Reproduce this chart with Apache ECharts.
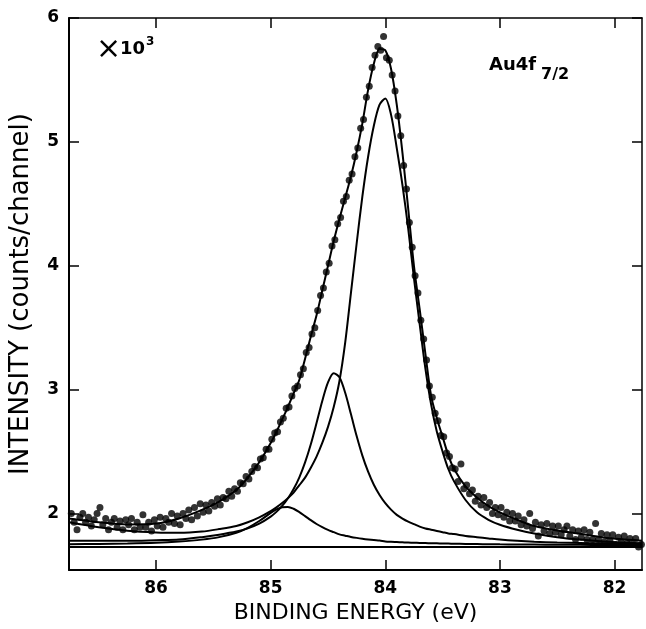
<!DOCTYPE html>
<html><head><meta charset="utf-8">
<script src="https://cdn.jsdelivr.net/npm/echarts@6/dist/echarts.min.js"></script>
<style>html,body{margin:0;padding:0;background:#fff}#c{width:646px;height:629px}</style>
</head><body><div id="c"></div>
<script>
// Measured channels: binding energy (eV) and intensity (x10^3 counts/channel)
const channelEnergy = [86.74,86.715,86.69,86.665,86.64,86.615,86.59,86.565,86.54,86.515,86.49,86.465,86.44,86.415,86.39,86.365,86.34,86.315,86.29,86.265,86.24,86.215,86.19,86.165,86.14,86.115,86.09,86.065,86.04,86.015,85.99,85.965,85.94,85.915,85.89,85.865,85.84,85.815,85.79,85.765,85.74,85.715,85.69,85.665,85.64,85.615,85.59,85.565,85.54,85.515,85.49,85.465,85.44,85.415,85.39,85.365,85.34,85.315,85.29,85.265,85.24,85.215,85.19,85.165,85.14,85.115,85.09,85.065,85.04,85.015,84.99,84.965,84.94,84.915,84.89,84.865,84.84,84.815,84.79,84.765,84.74,84.715,84.69,84.665,84.64,84.615,84.59,84.565,84.54,84.515,84.49,84.465,84.44,84.415,84.39,84.365,84.34,84.315,84.29,84.265,84.24,84.215,84.19,84.165,84.14,84.115,84.09,84.065,84.04,84.015,83.99,83.965,83.94,83.915,83.89,83.865,83.84,83.815,83.79,83.765,83.74,83.715,83.69,83.665,83.64,83.615,83.59,83.565,83.54,83.515,83.49,83.465,83.44,83.415,83.39,83.365,83.34,83.315,83.29,83.265,83.24,83.215,83.19,83.165,83.14,83.115,83.09,83.065,83.04,83.015,82.99,82.965,82.94,82.915,82.89,82.865,82.84,82.815,82.79,82.765,82.74,82.715,82.69,82.665,82.64,82.615,82.59,82.565,82.54,82.515,82.49,82.465,82.44,82.415,82.39,82.365,82.34,82.315,82.29,82.265,82.24,82.215,82.19,82.165,82.14,82.115,82.09,82.065,82.04,82.015,81.99,81.965,81.94,81.915,81.89,81.865,81.84,81.815,81.79,81.765];
const channelCounts = [2.00,1.93,1.87,1.97,2.00,1.93,1.97,1.90,1.95,2.00,
2.05,1.91,1.96,1.87,1.93,1.96,1.89,1.94,1.87,1.95,
1.91,1.96,1.87,1.93,1.89,1.99,1.89,1.93,1.86,1.95,
1.90,1.97,1.89,1.96,1.93,2.00,1.92,1.98,1.91,2.00,
1.96,2.03,1.95,2.05,1.98,2.08,2.01,2.07,2.02,2.09,
2.06,2.12,2.07,2.13,2.12,2.18,2.14,2.20,2.18,2.25,
2.24,2.30,2.28,2.34,2.38,2.37,2.44,2.45,2.52,2.52,
2.60,2.65,2.66,2.74,2.77,2.85,2.86,2.95,3.01,3.03,
3.12,3.17,3.30,3.34,3.45,3.50,3.64,3.76,3.82,3.95,
4.02,4.16,4.21,4.34,4.39,4.52,4.56,4.69,4.74,4.88,
4.95,5.11,5.18,5.36,5.45,5.60,5.70,5.77,5.74,5.85,
5.68,5.66,5.54,5.41,5.21,5.05,4.81,4.62,4.35,4.15,
3.92,3.78,3.56,3.41,3.24,3.03,2.94,2.81,2.75,2.63,
2.62,2.49,2.46,2.37,2.36,2.26,2.40,2.20,2.23,2.16,
2.19,2.10,2.14,2.07,2.13,2.05,2.09,2.00,2.05,1.99,
2.05,1.97,2.01,1.94,2.00,1.94,1.98,1.91,1.95,1.90,
2.00,1.88,1.93,1.82,1.91,1.86,1.92,1.84,1.90,1.85,
1.90,1.83,1.87,1.90,1.82,1.87,1.79,1.86,1.81,1.87,
1.79,1.85,1.79,1.92,1.79,1.84,1.77,1.83,1.78,1.83,
1.75,1.81,1.77,1.82,1.76,1.80,1.75,1.80,1.73,1.75];

// Fitted curves sampled at these energies
const fitEnergy = [86.76,86.5,86.25,86.0,85.8,85.6,85.45,85.3,85.2,85.1,85.0,84.95,84.9,84.85,84.8,84.75,84.7,84.65,84.6,84.55,84.5,84.45,84.4,84.35,84.3,84.25,84.2,84.15,84.1,84.05,84.0,83.95,83.9,83.85,83.8,83.75,83.7,83.65,83.6,83.55,83.5,83.45,83.4,83.3,83.2,83.1,83.0,82.85,82.7,82.5,82.3,82.1,81.9,81.76];
const fitTotal = [1.96,1.93,1.913,1.92,1.961,2.03,2.097,2.19,2.29,2.414,2.57,2.66,2.76,2.86,2.97,3.08,3.25,3.43,3.60,3.80,4.00,4.20,4.38,4.55,4.72,4.92,5.15,5.42,5.63,5.75,5.74,5.59,5.30,4.91,4.46,4.00,3.65,3.29,2.95,2.77,2.62,2.47,2.36,2.22,2.13,2.06,2.01,1.95,1.90,1.863,1.837,1.808,1.79,1.78];
const fitMain = [1.93,1.89,1.862,1.848,1.845,1.855,1.875,1.90,1.93,1.97,2.02,2.05,2.085,2.125,2.17,2.23,2.29,2.37,2.46,2.57,2.70,2.86,3.07,3.38,3.78,4.18,4.56,4.88,5.13,5.30,5.35,5.22,4.95,4.65,4.30,3.90,3.53,3.17,2.88,2.66,2.50,2.36,2.26,2.11,2.01,1.95,1.91,1.87,1.84,1.81,1.79,1.775,1.765,1.76];
const fitPeak2 = [1.78,1.78,1.78,1.785,1.79,1.81,1.83,1.855,1.881,1.919,1.976,2.014,2.062,2.122,2.198,2.293,2.413,2.56,2.731,2.909,3.059,3.133,3.10,2.975,2.803,2.626,2.468,2.338,2.233,2.15,2.084,2.032,1.99,1.96,1.935,1.915,1.895,1.88,1.87,1.86,1.85,1.84,1.835,1.82,1.81,1.80,1.79,1.78,1.773,1.767,1.763,1.76,1.758,1.757];
const fitPeak3 = [1.753,1.755,1.758,1.764,1.774,1.79,1.81,1.845,1.885,1.94,2.006,2.034,2.052,2.054,2.039,2.012,1.98,1.947,1.916,1.89,1.868,1.85,1.832,1.822,1.812,1.804,1.797,1.791,1.786,1.782,1.775,1.772,1.77,1.768,1.766,1.765,1.763,1.762,1.761,1.76,1.759,1.758,1.757,1.755,1.754,1.753,1.752,1.751,1.75,1.749,1.748,1.747,1.747,1.746];
const baseEnergy = [86.76, 81.76];
const baseLevel = [1.73, 1.73];

const xTicks = [86, 85, 84, 83, 82];
const yTicks = [2, 3, 4, 5, 6];
const xRange = [81.76, 86.76];
const yRange = [1.544, 6];

const pairs = (xs, ys) => xs.map((x, i) => [x, ys[i]]);
const black = '#000';

function xAx(pos, show) {
  return {
    type: 'value', min: xRange[0], max: xRange[1], inverse: true, position: pos,
    axisLine: { show: true, onZero: false, lineStyle: { color: black, width: pos === 'bottom' ? 2 : 1.5 } },
    axisTick: { show: true, inside: true, length: 10, customValues: xTicks, lineStyle: { color: black, width: 1.5 } },
    axisLabel: { show: show, customValues: xTicks, color: black, fontSize: 17, fontWeight: 'bold', fontFamily: 'DejaVu Sans', margin: 10 },
    splitLine: { show: false },
    name: show ? 'BINDING ENERGY (eV)' : '', nameLocation: 'middle', nameGap: 31,
    nameTextStyle: { color: black, fontSize: 22, fontFamily: 'DejaVu Sans' }
  };
}
function yAx(pos, show) {
  return {
    type: 'value', min: yRange[0], max: yRange[1], position: pos,
    axisLine: { show: true, onZero: false, lineStyle: { color: black, width: pos === 'left' ? 2 : 1.5 } },
    axisTick: { show: true, inside: true, length: 10, customValues: yTicks, lineStyle: { color: black, width: 1.5 } },
    axisLabel: { show: show, customValues: yTicks, color: black, fontSize: 17, fontWeight: 'bold', fontFamily: 'DejaVu Sans', margin: 10 },
    splitLine: { show: false },
    name: show ? 'INTENSITY (counts/channel)' : '', nameLocation: 'middle', nameGap: 35,
    nameTextStyle: { color: black, fontSize: 26, fontFamily: 'DejaVu Sans' }
  };
}
function curve(xs, ys) {
  return { type: 'line', data: pairs(xs, ys), showSymbol: false, smooth: 0.3, silent: true,
    lineStyle: { color: black, width: 2 }, z: 2 };
}

const chart = echarts.init(document.getElementById('c'));
chart.setOption({
  animation: false,
  backgroundColor: '#fff',
  grid: { left: 68, right: 4, top: 18, bottom: 56 },
  xAxis: [xAx('bottom', true), xAx('top', false)],
  yAxis: [yAx('left', true), yAx('right', false)],
  series: [
    curve(baseEnergy, baseLevel),
    curve(fitEnergy, fitPeak3),
    curve(fitEnergy, fitPeak2),
    curve(fitEnergy, fitMain),
    curve(fitEnergy, fitTotal),
    { type: 'scatter', data: pairs(channelEnergy, channelCounts), symbol: 'circle', symbolSize: 7,
      itemStyle: { color: black }, z: 3 }
  ],
  graphic: [
    { type: 'text', left: 96, top: 35, style: { text: '×', fontSize: 30, fontFamily: 'DejaVu Sans', fill: black } },
    { type: 'text', left: 120, top: 40, style: { text: '10', fontSize: 18, fontWeight: 'bold', fontFamily: 'DejaVu Sans', fill: black } },
    { type: 'text', left: 146, top: 36, style: { text: '3', fontSize: 12, fontWeight: 'bold', fontFamily: 'DejaVu Sans', fill: black } },
    { type: 'text', left: 489, top: 56, style: { text: 'Au4f', fontSize: 18, fontWeight: 'bold', fontFamily: 'DejaVu Sans', fill: black } },
    { type: 'text', left: 541, top: 67, style: { text: '7/2', fontSize: 16, fontWeight: 'bold', fontFamily: 'DejaVu Sans', fill: black } }
  ]
});
</script>
</body></html>
